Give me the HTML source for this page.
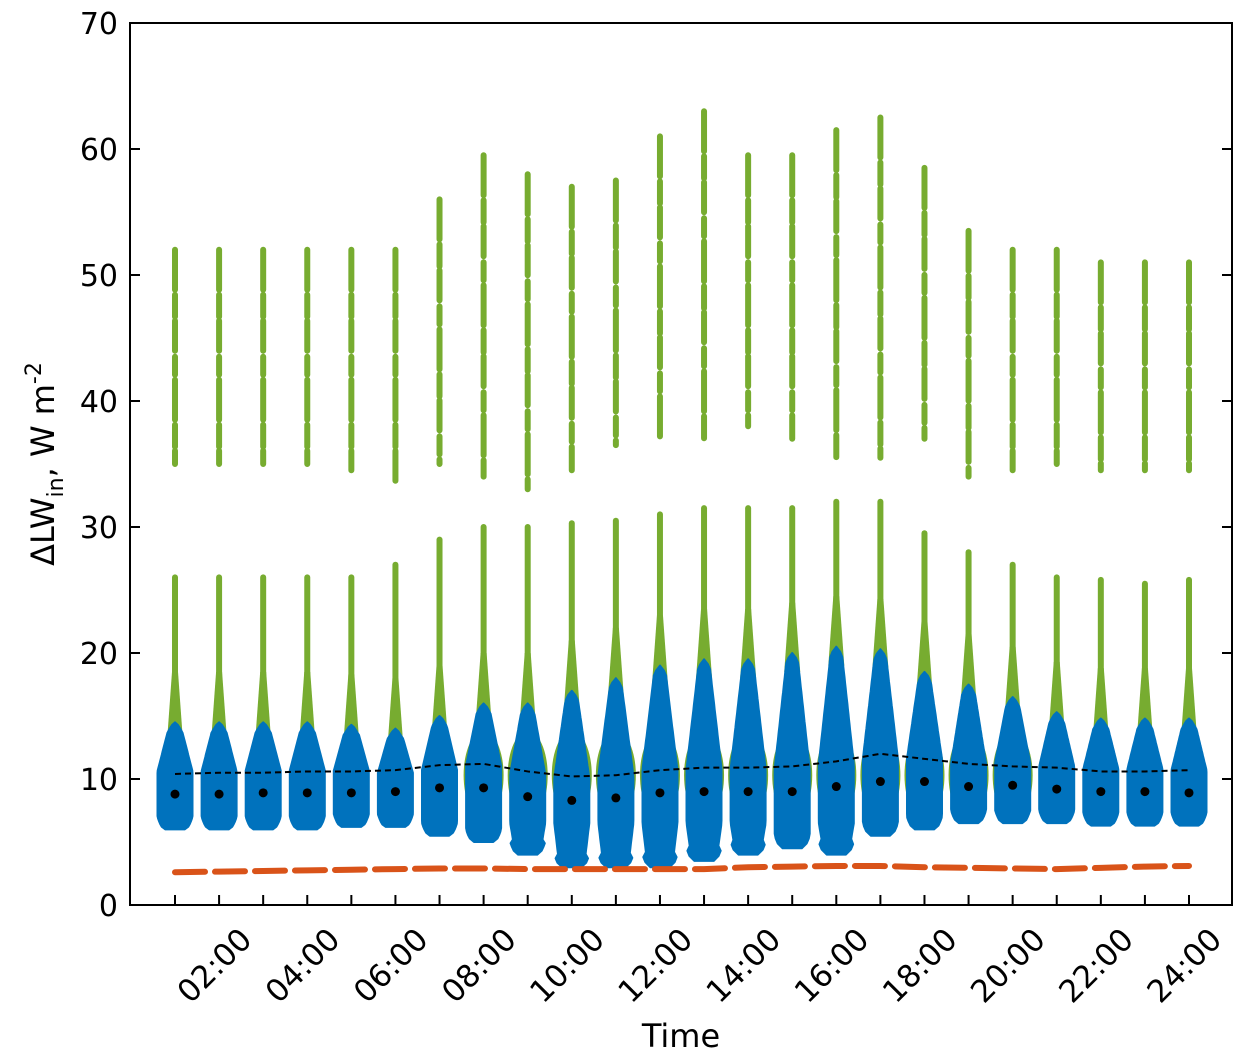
<!DOCTYPE html>
<html><head><meta charset="utf-8"><style>
body{margin:0;background:#fff;}
svg{display:block;font-family:"DejaVu Sans","Liberation Sans",sans-serif;}
</style></head><body>
<svg id="chart" width="1245" height="1061" xmlns="http://www.w3.org/2000/svg">
<g id="marks"></g>
<g id="axes"></g>
</svg>
<script>
const hours=[1,2,3,4,5,6,7,8,9,10,11,12,13,14,15,16,17,18,19,20,21,22,23,24];
const greenUpperMax=[52,52,52,52,52,52,56,59.5,58,57,57.5,61,63,59.5,59.5,61.5,62.5,58.5,53.5,52,52,51,51,51];
const greenUpperMin=[35,35,35,35,34.5,33.5,35,34,33,34.5,36.5,37,37,38,37,35.5,35.5,37,34,34.5,35,34.5,34.5,34.5];
const greenLowerMax=[26,26,26,26,26,27,29,30,30,30.3,30.5,31,31.5,31.5,31.5,32,32,29.5,28,27,26,25.8,25.5,25.8];
const blueMax=[14.5,14.5,14.5,14.5,14.3,14,15,16,16,17,18,19,19.5,19.5,20,20.5,20.3,18.5,17.5,16.5,15.3,14.8,14.8,14.8];
const blueMin=[6,6,6,6,6.2,6.2,5.5,5,4,3,3,3,3.5,4,4.5,4,5.5,6,6.5,6.5,6.5,6.3,6.3,6.3];
const medians=[8.8,8.8,8.9,8.9,8.9,9.0,9.3,9.3,8.6,8.3,8.5,8.9,9.0,9.0,9.0,9.4,9.8,9.8,9.4,9.5,9.2,9.0,9.0,8.9];
const meanLine=[10.4,10.5,10.5,10.6,10.6,10.7,11.1,11.2,10.6,10.2,10.3,10.7,10.9,10.9,11.0,11.4,12.0,11.6,11.2,11.0,10.9,10.6,10.6,10.7];
const orangeLine=[2.6,2.65,2.7,2.75,2.8,2.85,2.9,2.9,2.85,2.85,2.85,2.85,2.85,3.0,3.05,3.1,3.1,3.0,2.95,2.9,2.85,2.95,3.05,3.1];
const yTicks=[0,10,20,30,40,50,60,70];
const xLabels=["02:00","04:00","06:00","08:00","10:00","12:00","14:00","16:00","18:00","20:00","22:00","24:00"];
const xLabelHours=[2,4,6,8,10,12,14,16,18,20,22,24];

const L=130,R=1232,T=23,B=905;
const y=v=>B-(v/70)*(B-T);
const x=h=>175+(h-1)*(1189-175)/23;
const NS="http://www.w3.org/2000/svg";
function mk(tag,attrs,parent){const e=document.createElementNS(NS,tag);for(const k in attrs)e.setAttribute(k,attrs[k]);parent.appendChild(e);return e;}
const marks=document.getElementById('marks'),axes=document.getElementById('axes');

hours.forEach((h,i)=>{
  const cx=x(h);
  let g=mk('line',{x1:cx,x2:cx,y1:y(greenUpperMax[i]),y2:y(greenUpperMin[i]),stroke:'#77ac30','stroke-width':6,'stroke-dasharray':'40 5 22 4 30 6 18 5','stroke-linecap':'round'},marks);
  
  
  let g2=mk('line',{x1:cx,x2:cx,y1:y(greenLowerMax[i]),y2:y(blueMax[i]),stroke:'#77ac30','stroke-width':6,'stroke-linecap':'round'},marks);
  
  
  let gb=mk('path',{d:'M'+(cx-3)+','+y(blueMax[i]+4)+' L'+(cx-8)+','+y(blueMax[i]-1.5)+' L'+(cx+8)+','+y(blueMax[i]-1.5)+' L'+(cx+3)+','+y(blueMax[i]+4)+'Z',fill:'#77ac30'},marks);
  
  
  if(blueMax[i]>=16){
    let gh=mk('ellipse',{cx:cx,cy:y(10.3),rx:20,ry:y(8.5)-y(12),fill:'#77ac30'},marks);
    
    
  }
  const mx=blueMax[i],mn=blueMin[i],W=17.5;
  const n=40,pts=[];
  const wideTop=Math.min(medians[i]+1.8,mn+(mx-mn)*0.55);
  for(let k=0;k<=n;k++){
    const v=mn+(mx-mn)*k/n;
    let w;
    const db=v-mn;
    if(db<1) w=W*(0.55+0.45*Math.sqrt(db));
    else if(v<=wideTop) w=W;
    else {
      const t=(v-wideTop)/(mx-wideTop);
      w=W*(1-0.72*t);
      const dt=mx-v;
      if(dt<0.8) w*=Math.sqrt(dt/0.8);
    }
    if(mn<4.5 && v<6.5 && db>=1) w=W*(0.7+0.3*(v-mn)/(6.5-mn));
    pts.push([v,w]);
  }
  let d='M'+cx+','+y(mn);
  pts.forEach(p=>d+=' L'+(cx+p[1]).toFixed(1)+','+y(p[0]).toFixed(1));
  for(let k=pts.length-1;k>=0;k--)d+=' L'+(cx-pts[k][1]).toFixed(1)+','+y(pts[k][0]).toFixed(1);
  d+='Z';
  let bv=mk('path',{d:d,fill:'#0072bd',stroke:'#0072bd','stroke-width':2,'stroke-linejoin':'round'},marks);
  
  
  let md=mk('circle',{cx:cx,cy:y(medians[i]),r:4.5,fill:'#000'},marks);
  
  
});
let mp=mk('polyline',{points:hours.map((h,i)=>x(h)+','+y(meanLine[i])).join(' '),fill:'none',stroke:'#000','stroke-width':2,'stroke-dasharray':'6 4'},marks);


let op=mk('polyline',{points:hours.map((h,i)=>x(h)+','+y(orangeLine[i])).join(' '),fill:'none',stroke:'#d95319','stroke-width':6,'stroke-dasharray':'30 10','stroke-linecap':'round'},marks);



let fr=mk('rect',{x:L,y:T,width:R-L,height:B-T,fill:'none',stroke:'#000','stroke-width':2},axes);


yTicks.forEach(v=>{
  mk('line',{x1:L,x2:L+10,y1:y(v),y2:y(v),stroke:'#000','stroke-width':2},axes);
  mk('line',{x1:R-10,x2:R,y1:y(v),y2:y(v),stroke:'#000','stroke-width':2},axes);
  let t=mk('text',{x:L-12,y:y(v)+11,'text-anchor':'end','font-size':30},axes);
  t.textContent=v;
  
  
});
hours.forEach(h=>{
  mk('line',{x1:x(h),x2:x(h),y1:B,y2:B-10,stroke:'#000','stroke-width':2},axes);
});
xLabelHours.forEach((h,i)=>{
  const tx=x(h)+18,ty=B+20;
  let t=mk('text',{x:tx,y:ty,'text-anchor':'end','font-size':31,transform:'rotate(-45 '+tx+' '+ty+')',dy:'0.75em'},axes);
  t.textContent=xLabels[i];
  
  
});
let xt=mk('text',{x:681,y:1047,'text-anchor':'middle','font-size':32},axes);
xt.textContent='Time';


let yt=mk('text',{x:0,y:0,'text-anchor':'middle','font-size':32,transform:'translate(54 464) rotate(-90)'},axes);
yt.innerHTML='ΔLW<tspan font-size="22" dy="9">in</tspan><tspan dy="-9">, W m</tspan><tspan font-size="22" dy="-13">-2</tspan>';


</script>
</body></html>
